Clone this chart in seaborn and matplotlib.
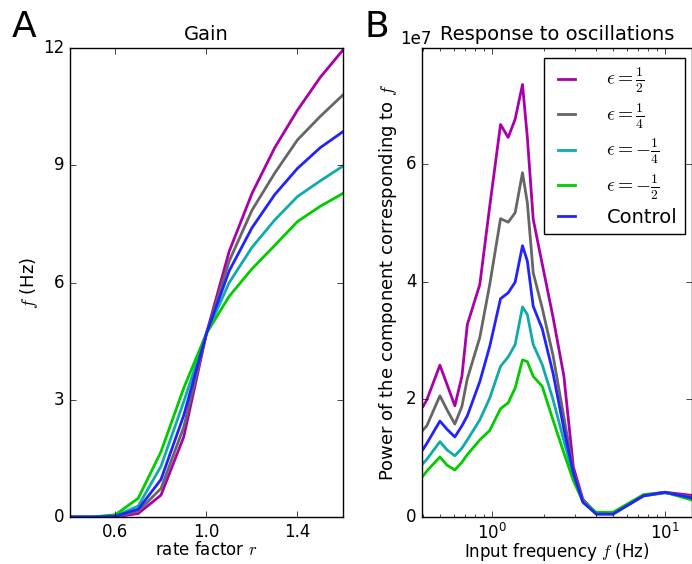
import numpy as np
import pandas as pd
import matplotlib
matplotlib.use("Agg")
import matplotlib.pyplot as plt
import seaborn as sns
from matplotlib.ticker import ScalarFormatter

plt.style.use("classic")
plt.rcParams["mathtext.fontset"] = "cm"
plt.rcParams["font.family"] = ["DejaVu Sans"]
plt.rcParams["figure.facecolor"] = "white"
plt.rcParams["savefig.facecolor"] = "white"

# ---------------- data ----------------
labels = [r"$\epsilon=\frac{1}{2}$", r"$\epsilon=\frac{1}{4}$",
          r"$\epsilon=-\frac{1}{4}$", r"$\epsilon=-\frac{1}{2}$", "Control"]
colors = ["#aa00aa", "#666666", "#11aaaa", "#00cc00", "#2222ff"]

rate = [0.4, 0.5, 0.6, 0.7, 0.8, 0.9, 1.0, 1.1, 1.2, 1.3, 1.4, 1.5, 1.6]
gain_p_half = [0, 0, 0, 0.09, 0.56, 2.05, 4.7, 6.8, 8.28, 9.45, 10.41, 11.25, 11.95]
gain_p_quarter = [0, 0, 0.01, 0.15, 0.73, 2.3, 4.7, 6.55, 7.85, 8.8, 9.65, 10.25, 10.8]
gain_m_quarter = [0, 0, 0.03, 0.28, 1.3, 2.95, 4.7, 6.0, 6.9, 7.6, 8.2, 8.6, 8.98]
gain_m_half = [0, 0, 0.06, 0.48, 1.67, 3.3, 4.7, 5.65, 6.35, 6.95, 7.56, 7.95, 8.28]
gain_control = [0, 0, 0.02, 0.2, 0.96, 2.6, 4.7, 6.3, 7.4, 8.25, 8.92, 9.45, 9.86]

freq = [0.4, 0.42, 0.5, 0.55, 0.61, 0.67, 0.72, 0.85, 0.97, 1.12, 1.24, 1.36,
        1.5, 1.6, 1.73, 1.95, 2.25, 2.6, 2.95, 3.35, 4.0, 5.0, 7.5, 10.0, 15.0]
# power in units of 1e7
pow_p_half = [1.88, 1.99, 2.58, 2.25, 1.89, 2.39, 3.27, 3.95, 5.28, 6.67, 6.45, 6.76,
              7.35, 6.45, 5.06, 4.3, 3.4, 2.4, 0.85, 0.3, 0.06, 0.06, 0.37, 0.42, 0.36]
pow_p_quarter = [1.48, 1.55, 2.06, 1.82, 1.58, 1.88, 2.35, 3.05, 3.95, 5.07, 5.01, 5.17,
                 5.85, 5.34, 4.15, 3.55, 2.75, 1.7, 0.78, 0.28, 0.05, 0.05, 0.36, 0.41, 0.33]
pow_m_quarter = [0.91, 0.98, 1.28, 1.14, 1.04, 1.17, 1.31, 1.65, 2.02, 2.56, 2.72, 2.93,
                 3.57, 3.44, 2.93, 2.59, 2.0, 1.3, 0.7, 0.27, 0.07, 0.07, 0.36, 0.42, 0.30]
pow_m_half = [0.70, 0.78, 1.02, 0.88, 0.80, 0.93, 1.06, 1.31, 1.47, 1.84, 1.94, 2.19,
              2.67, 2.64, 2.39, 2.22, 1.65, 1.09, 0.62, 0.26, 0.08, 0.08, 0.38, 0.42, 0.27]
pow_control = [1.15, 1.25, 1.63, 1.49, 1.36, 1.55, 1.72, 2.3, 2.9, 3.71, 3.81, 3.99,
               4.61, 4.35, 3.58, 3.2, 2.45, 1.5, 0.75, 0.25, 0.05, 0.05, 0.36, 0.42, 0.31]

gain_series = [gain_p_half, gain_p_quarter, gain_m_quarter, gain_m_half, gain_control]
pow_series = [pow_p_half, pow_p_quarter, pow_m_quarter, pow_m_half, pow_control]

dfA = pd.concat([pd.DataFrame({"r": rate, "f": s, "cond": lab})
                 for s, lab in zip(gain_series, labels)], ignore_index=True)
dfB = pd.concat([pd.DataFrame({"freq": freq, "power": np.array(s) * 1e7, "cond": lab})
                 for s, lab in zip(pow_series, labels)], ignore_index=True)
palette = dict(zip(labels, colors))

# ---------------- figure ----------------
fig = plt.figure(figsize=(6.92, 5.64), dpi=100)
axA = fig.add_axes([70 / 692, 1 - 517 / 564, 273 / 692, 469 / 564])
axB = fig.add_axes([422 / 692, 1 - 517 / 564, 270 / 692, 469 / 564])

sns.lineplot(data=dfA, x="r", y="f", hue="cond", palette=palette, hue_order=labels,
             estimator=None, sort=False, linewidth=2, ax=axA, legend=False)
sns.lineplot(data=dfB, x="freq", y="power", hue="cond", palette=palette, hue_order=labels,
             estimator=None, sort=False, linewidth=2, ax=axB)

# Panel A
axA.set_xlim(0.4, 1.6)
axA.set_ylim(0, 12)
axA.set_xticks([0.6, 1.0, 1.4])
axA.set_xticklabels(["0.6", "1.0", "1.4"])
axA.set_yticks([0, 3, 6, 9, 12])
axA.set_title("Gain", fontsize=14, pad=6)
axA.set_xlabel(r"rate factor $r$", fontsize=12)
axA.set_ylabel(r"$f$ (Hz)", fontsize=13)
axA.tick_params(labelsize=12)
axA.xaxis.set_label_coords(0.5, -0.052)
axA.yaxis.set_label_coords(-0.11, 0.5)

# Panel B
axB.set_xscale("log")
axB.set_xlim(0.394, 14.3)
axB.set_ylim(0, 7.97e7)
axB.set_yticks([0, 2e7, 4e7, 6e7])
fmt = ScalarFormatter(useMathText=False)
fmt.set_powerlimits((0, 0))
axB.yaxis.set_major_formatter(fmt)
axB.set_title("Response to oscillations", fontsize=14, pad=6)
axB.set_xlabel(r"Input frequency $f$ (Hz)", fontsize=12)
axB.set_ylabel(r"Power of the component corresponding to $f$", fontsize=13)
axB.tick_params(labelsize=12)
axB.xaxis.set_label_coords(0.5, -0.052)
off = axB.yaxis.get_offset_text()
off.set_horizontalalignment("right")
off.set_x(0.037)
off.set_fontsize(12)

handles, labs = axB.get_legend_handles_labels()
leg = axB.legend(handles, labs, loc="upper right", bbox_to_anchor=(0.974, 0.979),
                 borderaxespad=0.0,
                 fontsize=14, handlelength=1.5, handletextpad=1.3, labelspacing=0.3,
                 borderpad=0.4, fancybox=False, frameon=True)
leg.get_frame().set_edgecolor("black")
for l in leg.get_lines():
    l.set_linewidth(2)

fig.text(0.017, 0.952, "A", fontsize=26, va="center", ha="left")
fig.text(0.527, 0.952, "B", fontsize=26, va="center", ha="left")

fig.savefig("out.png", dpi=100)
